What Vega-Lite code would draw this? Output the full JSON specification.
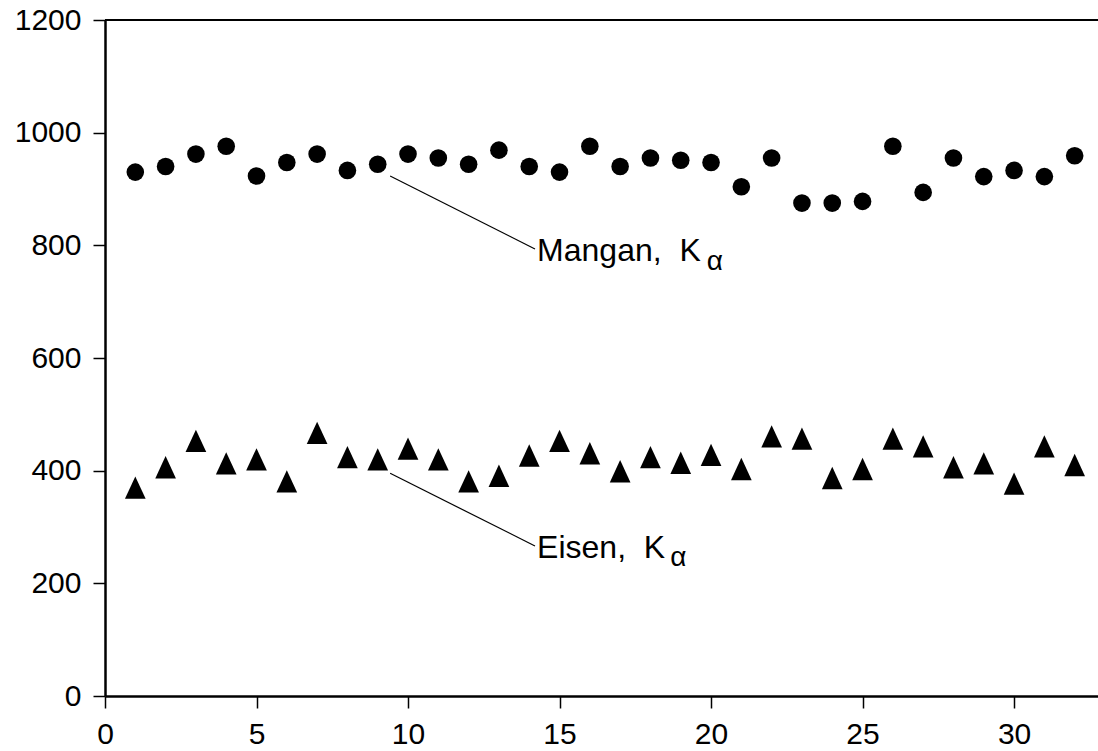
{
  "$schema": "https://vega.github.io/schema/vega-lite/v6.json",
  "autosize": {"type": "none"},
  "width": 993,
  "height": 676,
  "padding": {"left": 105, "top": 20, "right": 0, "bottom": 55},
  "background": "white",
  "config": {
    "view": {"stroke": null},
    "font": "Liberation Sans",
    "axis": {
      "labelFont": "Liberation Sans",
      "labelFontSize": 30,
      "labelColor": "black",
      "domainColor": "black",
      "domainWidth": 2.5,
      "tickColor": "black",
      "tickWidth": 1.5,
      "tickSize": 12,
      "grid": false,
      "title": null
    }
  },
  "datasets": {
    "counts": [
      {"n": 1, "mangan": 930, "eisen": 370},
      {"n": 2, "mangan": 940, "eisen": 406},
      {"n": 3, "mangan": 962, "eisen": 453},
      {"n": 4, "mangan": 976, "eisen": 413},
      {"n": 5, "mangan": 923, "eisen": 420},
      {"n": 6, "mangan": 947, "eisen": 381},
      {"n": 7, "mangan": 962, "eisen": 467},
      {"n": 8, "mangan": 933, "eisen": 424},
      {"n": 9, "mangan": 944, "eisen": 420},
      {"n": 10, "mangan": 962, "eisen": 439},
      {"n": 11, "mangan": 955, "eisen": 420},
      {"n": 12, "mangan": 944, "eisen": 381},
      {"n": 13, "mangan": 969, "eisen": 391},
      {"n": 14, "mangan": 940, "eisen": 427},
      {"n": 15, "mangan": 930, "eisen": 453},
      {"n": 16, "mangan": 976, "eisen": 431},
      {"n": 17, "mangan": 940, "eisen": 399},
      {"n": 18, "mangan": 955, "eisen": 424},
      {"n": 19, "mangan": 951, "eisen": 414},
      {"n": 20, "mangan": 947, "eisen": 428},
      {"n": 21, "mangan": 904, "eisen": 403},
      {"n": 22, "mangan": 955, "eisen": 461},
      {"n": 23, "mangan": 875, "eisen": 457},
      {"n": 24, "mangan": 875, "eisen": 387},
      {"n": 25, "mangan": 878, "eisen": 403},
      {"n": 26, "mangan": 976, "eisen": 457},
      {"n": 27, "mangan": 894, "eisen": 443},
      {"n": 28, "mangan": 955, "eisen": 406},
      {"n": 29, "mangan": 922, "eisen": 413},
      {"n": 30, "mangan": 933, "eisen": 377},
      {"n": 31, "mangan": 922, "eisen": 443},
      {"n": 32, "mangan": 959, "eisen": 410}
    ],
    "notes": [
      {"label": "Mangan,\u00a0\u00a0K", "sub": "α", "x0": 9.41, "y0": 923, "x1": 14.19, "y1": 793.5, "tx": 14.26, "ty": 772.2, "sx": 19.86, "sy": 756.3},
      {"label": "Eisen,\u00a0\u00a0K", "sub": "α", "x0": 9.41, "y0": 395.4, "x1": 14.19, "y1": 266.3, "tx": 14.26, "ty": 244.5, "sx": 18.65, "sy": 231}
    ]
  },
  "layer": [
    {
      "data": {"name": "counts"},
      "mark": {"type": "point", "shape": "circle", "filled": true, "color": "black", "opacity": 1, "size": 310, "strokeWidth": 0},
      "encoding": {
        "x": {
          "field": "n", "type": "quantitative",
          "scale": {"domain": [0, 32.77], "nice": false, "zero": false},
          "axis": {"values": [0, 5, 10, 15, 20, 25, 30], "format": "d", "labelPadding": 11, "labelFlush": false, "labelOverlap": false}
        },
        "y": {
          "field": "mangan", "type": "quantitative",
          "scale": {"domain": [0, 1200], "nice": false},
          "axis": {"values": [0, 200, 400, 600, 800, 1000, 1200], "format": "d", "labelPadding": 12, "labelFlush": false, "labelOverlap": false}
        }
      }
    },
    {
      "data": {"name": "counts"},
      "mark": {"type": "point", "shape": "M0,-1.08L1,1.08L-1,1.08Z", "filled": true, "color": "black", "opacity": 1, "size": 428, "strokeWidth": 0},
      "encoding": {
        "x": {"field": "n", "type": "quantitative"},
        "y": {"field": "eisen", "type": "quantitative"}
      }
    },
    {
      "data": {"name": "notes"},
      "mark": {"type": "rule", "color": "black", "strokeWidth": 1.2},
      "encoding": {
        "x": {"field": "x0", "type": "quantitative"},
        "y": {"field": "y0", "type": "quantitative"},
        "x2": {"field": "x1"},
        "y2": {"field": "y1"}
      }
    },
    {
      "data": {"name": "notes"},
      "mark": {"type": "text", "align": "left", "baseline": "alphabetic", "fontSize": 32, "font": "Liberation Sans", "color": "black"},
      "encoding": {
        "x": {"field": "tx", "type": "quantitative"},
        "y": {"field": "ty", "type": "quantitative"},
        "text": {"field": "label"}
      }
    },
    {
      "data": {"name": "notes"},
      "mark": {"type": "text", "align": "left", "baseline": "alphabetic", "fontSize": 28, "font": "Liberation Sans", "color": "black"},
      "encoding": {
        "x": {"field": "sx", "type": "quantitative"},
        "y": {"field": "sy", "type": "quantitative"},
        "text": {"field": "sub"}
      }
    },
    {
      "data": {"values": [{"top": 1200}]},
      "mark": {"type": "rule", "color": "black", "strokeWidth": 2},
      "encoding": {
        "y": {"field": "top", "type": "quantitative"}
      }
    }
  ]
}
